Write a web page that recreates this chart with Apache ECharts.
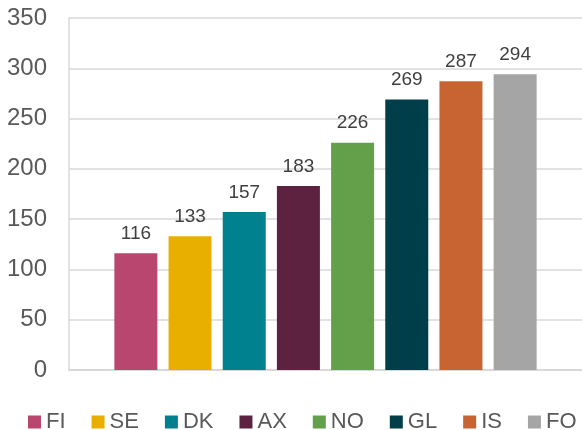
<!DOCTYPE html>
<html>
<head>
<meta charset="utf-8">
<script src="https://cdn.jsdelivr.net/npm/echarts@6/dist/echarts.min.js"></script>
<style>
  html, body { margin: 0; padding: 0; background: #fff; }
  #main { width: 582px; height: 430px; }
</style>
</head>
<body>
<div id="main"></div>
<script>
// one category, one series per country (Excel-style clustered bars)
var countries = ['FI', 'SE', 'DK', 'AX', 'NO', 'GL', 'IS', 'FO'];
var values = [116, 133, 157, 183, 226, 269, 287, 294];
var colors = ['#B8466F', '#E8AE00', '#00818F', '#5C2240', '#64A04A', '#003F4A', '#C86432', '#A5A5A5'];
var yTicks = { min: 0, max: 350, interval: 50 };

var series = [];
for (var i = 0; i < countries.length; i++) {
    series.push({
        name: countries[i],
        type: 'bar',
        barWidth: 43,
        barGap: '26%',
        itemStyle: { color: colors[i] },
        label: {
            show: true,
            position: 'top',
            distance: 10,
            color: '#404040',
            fontSize: 19,
            fontFamily: 'Liberation Sans'
        },
        data: [values[i]]
    });
}

var myChart = echarts.init(document.getElementById('main'));
var option = {
    animation: false,
    textStyle: { fontFamily: 'Liberation Sans' },
    grid: {
        left: 69,
        right: -5,
        top: 18,
        bottom: 60
    },
    legend: {
        left: 28,
        top: 411,
        width: 560,
        padding: 0,
        icon: 'rect',
        itemWidth: 13,
        itemHeight: 13,
        itemGap: 26,
        textStyle: { color: '#595959', fontSize: 22, fontFamily: 'Liberation Sans' },
        data: countries
    },
    xAxis: {
        type: 'category',
        data: [''],
        axisLine: { lineStyle: { color: '#D9D9D9', width: 2 } },
        axisTick: { show: false },
        axisLabel: { show: false }
    },
    yAxis: {
        type: 'value',
        min: yTicks.min,
        max: yTicks.max,
        interval: yTicks.interval,
        axisLine: { show: true, lineStyle: { color: '#D9D9D9', width: 1.5 } },
        axisTick: { show: false },
        axisLabel: { color: '#595959', fontSize: 24, margin: 22, fontFamily: 'Liberation Sans' },
        splitLine: { lineStyle: { color: '#D9D9D9', width: 1.5 } }
    },
    series: series
};
myChart.setOption(option);
</script>
</body>
</html>
